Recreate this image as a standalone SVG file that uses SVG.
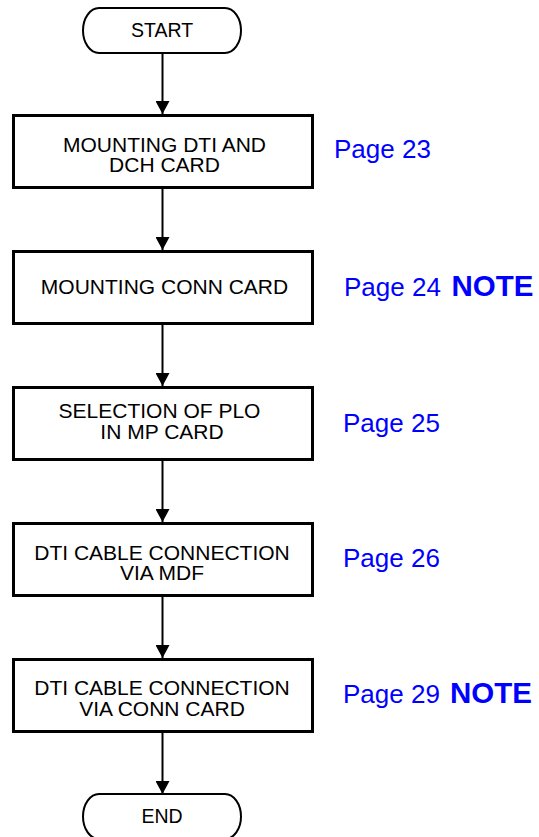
<svg xmlns="http://www.w3.org/2000/svg" width="539" height="837" viewBox="0 0 539 837">
<style>
.box{fill:#fff;stroke:#000;stroke-width:3}
.term{fill:#fff;stroke:#000;stroke-width:2}
.t{font-family:"Liberation Sans",Arial,sans-serif;font-size:21px;fill:#000;text-anchor:middle}
.tt{font-family:"Liberation Sans",Arial,sans-serif;font-size:19.5px;fill:#000;text-anchor:middle}
.pg{font-family:"Liberation Sans",Arial,sans-serif;font-size:26px;fill:#0000ff}
.note{font-family:"Liberation Sans",Arial,sans-serif;font-size:29.5px;font-weight:bold;fill:#0000ff}
.c{stroke:#000;stroke-width:2;fill:none;marker-end:url(#ah)}
</style>
<defs>
<marker id="ah" markerUnits="userSpaceOnUse" viewBox="0 0 13 14" refX="13" refY="7" markerWidth="13" markerHeight="14" orient="auto">
<path d="M0,0 L13,7 L0,14 z" fill="#000"/>
</marker>
</defs>
<rect width="539" height="837" fill="#fff"/>
<g id="connectors">
<path class="c" d="M162.5,54 V114"/>
<path class="c" d="M162.5,189 V250"/>
<path class="c" d="M162.5,325 V386"/>
<path class="c" d="M162.5,461 V522"/>
<path class="c" d="M162.5,597 V658"/>
<path class="c" d="M162.5,733 V794"/>
</g>
<g id="start">
<rect class="term" x="83" y="8" width="158" height="45" rx="16" ry="22.5"/>
<text class="tt" x="162" y="37">START</text>
</g>
<g id="n1">
<rect class="box" x="13.5" y="115.5" width="299" height="72"/>
<text class="t" x="164.5" y="152">MOUNTING DTI AND</text>
<text class="t" x="164.5" y="172">DCH CARD</text>
<text class="pg" x="334" y="158">Page 23</text>
</g>
<g id="n2">
<rect class="box" x="13.5" y="251.5" width="299" height="72"/>
<text class="t" x="164.5" y="293.5">MOUNTING CONN CARD</text>
<text class="pg" x="344" y="296">Page 24</text>
<text class="note" x="451.5" y="296">NOTE</text>
</g>
<g id="n3">
<rect class="box" x="13.5" y="387.5" width="299" height="72"/>
<text class="t" x="159.5" y="418">SELECTION OF PLO</text>
<text class="t" x="162" y="438.5">IN MP CARD</text>
<text class="pg" x="343" y="432">Page 25</text>
</g>
<g id="n4">
<rect class="box" x="13.5" y="523.5" width="299" height="72"/>
<text class="t" x="162" y="560">DTI CABLE CONNECTION</text>
<text class="t" x="162" y="580">VIA MDF</text>
<text class="pg" x="343" y="567">Page 26</text>
</g>
<g id="n5">
<rect class="box" x="13.5" y="659.5" width="299" height="72"/>
<text class="t" x="162" y="695">DTI CABLE CONNECTION</text>
<text class="t" x="162" y="716">VIA CONN CARD</text>
<text class="pg" x="343" y="703">Page 29</text>
<text class="note" x="450" y="703">NOTE</text>
</g>
<g id="end">
<rect class="term" x="83" y="794" width="158" height="45" rx="16" ry="22.5"/>
<text class="tt" x="162" y="823">END</text>
</g>
</svg>
